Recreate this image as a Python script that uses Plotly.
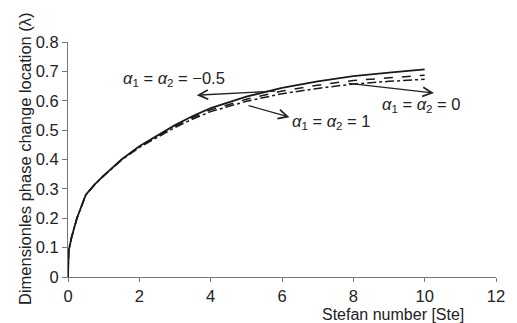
import plotly.graph_objects as go

ste = [0, 0.02, 0.1, 0.25, 0.5, 0.75, 1, 1.5, 2, 2.5, 3, 3.5, 4, 5, 6, 7, 8, 9, 10]
lam_m05 = [0, 0.09, 0.135, 0.2, 0.28, 0.315, 0.345, 0.400, 0.445, 0.482, 0.517, 0.548, 0.575, 0.614, 0.644, 0.666, 0.684, 0.696, 0.707]
lam_0 = [0, 0.09, 0.135, 0.2, 0.28, 0.315, 0.345, 0.399, 0.443, 0.479, 0.513, 0.543, 0.569, 0.605, 0.633, 0.653, 0.669, 0.678, 0.687]
lam_1 = [0, 0.09, 0.135, 0.2, 0.28, 0.315, 0.344, 0.398, 0.441, 0.476, 0.509, 0.538, 0.563, 0.598, 0.624, 0.642, 0.657, 0.666, 0.673]

x_ticks = [0, 2, 4, 6, 8, 10, 12]
y_ticks = [0, 0.1, 0.2, 0.3, 0.4, 0.5, 0.6, 0.7, 0.8]
y_tick_text = ["0", "0.1", "0.2", "0.3", "0.4", "0.5", "0.6", "0.7", "0.8"]

FONT = "Liberation Sans, Arial, sans-serif"

fig = go.Figure()
fig.add_trace(go.Scatter(x=ste, y=lam_m05, mode="lines", line=dict(color="#1a1a1a", width=1.8, dash="solid"), showlegend=False))
fig.add_trace(go.Scatter(x=ste, y=lam_0, mode="lines", line=dict(color="#1a1a1a", width=1.5, dash="dash"), showlegend=False))
fig.add_trace(go.Scatter(x=ste, y=lam_1, mode="lines", line=dict(color="#1a1a1a", width=1.5, dash="dashdot"), showlegend=False))

lab = "<i>α</i><sub>1</sub> = <i>α</i><sub>2</sub> = "
ann = []
for txt, x, y in [(lab + "−0.5", 2.98, 0.673), (lab + "1", 7.37, 0.527), (lab + "0", 9.90, 0.585)]:
    ann.append(dict(x=x, y=y, xref="x", yref="y", text=txt, showarrow=False,
                    xanchor="center", yanchor="middle",
                    font=dict(family=FONT, size=16.5, color="#222")))
for hx, hy, tx, ty in [(3.61, 0.619, 5.85, 0.633), (6.21, 0.544, 5.02, 0.585), (10.26, 0.626, 7.83, 0.660)]:
    ann.append(dict(x=hx, y=hy, ax=tx, ay=ty, xref="x", yref="y", axref="x", ayref="y",
                    text="", showarrow=True, arrowhead=5, arrowsize=1.4, arrowwidth=1.3, arrowcolor="#222"))
ann.append(dict(x=9.1, y=-0.16, xref="x", yref="paper", text="Stefan number [Ste]", showarrow=False,
                xanchor="center", yanchor="middle",
                font=dict(family=FONT, size=16, color="#222")))
ann.append(dict(x=-0.1007, y=0.506, xref="paper", yref="paper", text="Dimensionles phase change location (λ)",
                textangle=-90, showarrow=False, xanchor="center", yanchor="middle",
                font=dict(family=FONT, size=16.5, color="#222")))

fig.update_layout(
    width=517, height=323,
    margin=dict(l=68, r=12, t=42, b=46),
    paper_bgcolor="white", plot_bgcolor="white",
    font=dict(family=FONT, size=16.5, color="#222"),
    annotations=ann,
    xaxis=dict(range=[0, 12], tickvals=x_ticks, showgrid=False, zeroline=False,
               showline=True, linecolor="#777", linewidth=1.2, ticks="outside", ticklen=4,
               tickcolor="#777", tickfont=dict(size=16.5)),
    yaxis=dict(range=[0, 0.8], tickvals=y_ticks, ticktext=y_tick_text, showgrid=False, zeroline=False,
               showline=True, linecolor="#777", linewidth=1.2, ticks="outside", ticklen=5,
               tickcolor="#777", tickfont=dict(size=16.5)),
)

fig.write_html("out.html")
